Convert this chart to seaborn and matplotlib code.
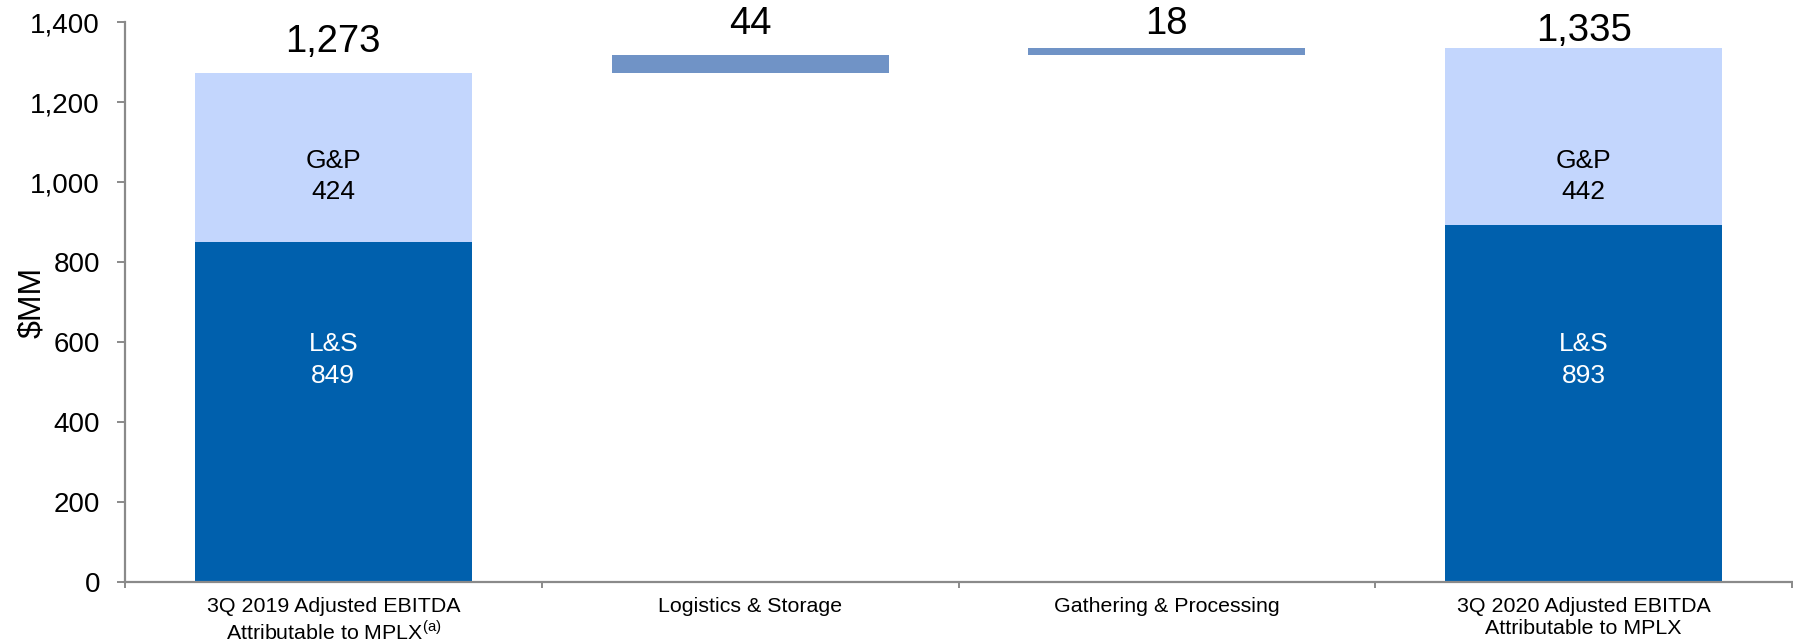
import numpy as np
import pandas as pd
import matplotlib
matplotlib.use("Agg")
import matplotlib.pyplot as plt
import seaborn as sns
from matplotlib.ticker import FuncFormatter, FixedLocator

# --- data ($MM) ---
categories = [
    "3Q 2019 Adjusted EBITDA\nAttributable to MPLX$^{\\mathrm{(a)}}$",
    "Logistics & Storage",
    "Gathering & Processing",
    "3Q 2020 Adjusted EBITDA\nAttributable to MPLX",
]
ls_values = [849, 0, 0, 893]        # L&S segment of the endpoint bars
gp_values = [424, 0, 0, 442]        # G&P segment of the endpoint bars
step_values = [0, 44, 18, 0]        # bridge increments
total_labels = ["1,273", "44", "18", "1,335"]

sns.set_theme(style="white")
plt.rcParams["font.family"] = ["Liberation Sans", "DejaVu Sans"]
plt.rcParams["mathtext.fontset"] = "custom"
plt.rcParams["mathtext.rm"] = "Liberation Sans"

DARK = "#0060ad"
LIGHT = "#c3d6fd"
STEP = "#7093c6"
AXIS = "#8a8a8a"

W, H = 1793, 642
fig = plt.figure(figsize=(W / 100, H / 100), dpi=100)
ax = fig.add_axes([125 / W, 60 / H, 1667 / W, 560 / H])

df = pd.DataFrame({"cat": categories, "ls": ls_values, "gp": gp_values, "step": step_values})

# bridge steps start from the first endpoint total
step_bottoms = []
running = ls_values[0] + gp_values[0]
for s in step_values:
    step_bottoms.append(running if s else 0)
    running += s

bw = 0.665
common = dict(order=categories, width=bw, errorbar=None, linewidth=0, saturation=1, ax=ax)
sns.barplot(data=df, x="cat", y="ls", color=DARK, **common)
sns.barplot(data=df, x="cat", y="gp", color=LIGHT, bottom=df["ls"].values, **common)
sns.barplot(data=df, x="cat", y="step", color=STEP, bottom=np.array(step_bottoms), **common)

ax.set_ylim(0, 1400)
ax.set_xlim(-0.5, 3.5)

# segment labels inside endpoint bars
for i in range(len(categories)):
    if ls_values[i]:
        ax.text(i, 555, f"L&S\n{ls_values[i]}", ha="center", va="center",
                color="white", fontsize=19, linespacing=1.38)
    if gp_values[i]:
        ax.text(i, 1013, f"G&P\n{gp_values[i]}", ha="center", va="center",
                color="black", fontsize=19, linespacing=1.38)

# totals / increments above the bars
for i, lab in enumerate(total_labels):
    if step_values[i]:
        top = step_bottoms[i] + step_values[i]
        y = min(top + 53, 1370)
    else:
        top = ls_values[i] + gp_values[i]
        y = min(top + 53, 1352)
    ax.text(i, y, lab, ha="center", va="baseline", fontsize=27.5,
            color="black", clip_on=False)

# axes styling
for side in ["top", "right"]:
    ax.spines[side].set_visible(False)
for side in ["left", "bottom"]:
    ax.spines[side].set_color(AXIS)
    ax.spines[side].set_linewidth(1.6)

ax.yaxis.set_major_formatter(FuncFormatter(lambda v, p: f"{int(v):,}"))
ax.set_yticks(np.arange(0, 1401, 200))
ax.tick_params(axis="y", which="major", direction="out", length=6, width=1.4,
               color=AXIS, labelsize=20, pad=12, left=True, labelcolor="black")

ax.set_xticks(range(len(categories)))
ax.set_xticklabels(categories, fontsize=15.4, linespacing=1.15)
ax.tick_params(axis="x", which="major", length=0, pad=11, labelcolor="black")
ax.xaxis.set_minor_locator(FixedLocator([-0.5, 0.5, 1.5, 2.5, 3.5]))
ax.tick_params(axis="x", which="minor", direction="out", length=4.5, width=1.4,
               color=AXIS, bottom=True)

ax.set_xlabel("")
ax.set_ylabel("\\$MM", fontsize=23, color="black")
ax.yaxis.set_label_coords(-0.047, 0.5)
ax.grid(False)

fig.savefig("out.png", dpi=100, facecolor="white")
